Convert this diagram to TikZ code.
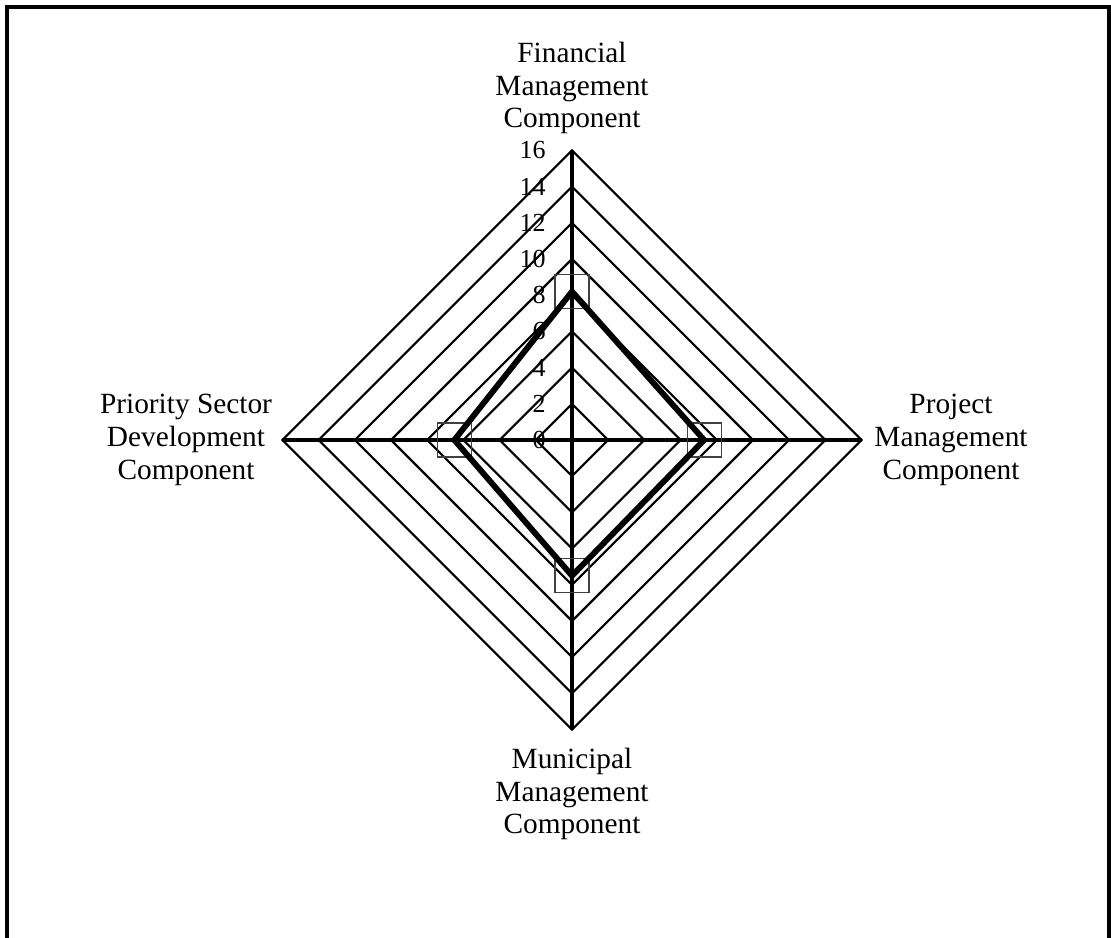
\documentclass[tikz,border=0pt]{standalone}
\usepackage{fontspec}
\setmainfont{Liberation Serif}
\tikzset{
        ring/.style={draw, line width=1.6pt},
        axis/.style={draw, line width=3.4pt},
        series/.style={draw, line width=4.4pt, line join=miter},
        marker/.style={draw=black!75, line width=0.8pt, rectangle, minimum size=25.5pt, inner sep=0pt},
        cat/.style={align=center, inner sep=0pt, font=\fontsize{22}{24.5}\selectfont},
        ticklabel/.style={anchor=east, inner sep=0pt, font=\fontsize{19.5}{22}\selectfont}
    }

\begin{document}
\begin{tikzpicture}[x=0.75pt,y=-0.75pt]
            \useasboundingbox (0,0) rectangle (1111,938);
            \draw[line width=3pt] (7,938) -- (7,7.5) -- (1109,7.5) -- (1109,938);

            % rings
            \foreach \v in {2,4,...,16}
                \draw[ring] (572,{440-18.1*\v}) -- ({572+18.1*\v},440) -- (572,{440+18.1*\v}) -- ({572-18.1*\v},440) -- cycle;

            \coordinate (top)    at (572, 150.4);
            \coordinate (right)  at (861.6, 440);
            \coordinate (bottom) at (572, 729.6);
            \coordinate (left)   at (282.4, 440);
            \draw[axis] (top) -- (bottom);
            \draw[axis] (left) -- (right);

            \foreach \v in {0,2,...,16}
                \node [ticklabel] (t\v) at (546,{440-18.1*\v}) {\v};

            % data
            \coordinate (fin)  at (572, {440-18.1*8.2});
            \coordinate (proj) at ({572+18.1*7.3}, 440);
            \coordinate (muni) at (572, {440+18.1*7.5});
            \coordinate (prio) at ({572-18.1*6.5}, 440);

            \node [marker] (mfin)  at (fin)  {};
            \node [marker] (mproj) at (proj) {};
            \node [marker] (mmuni) at (muni) {};
            \node [marker] (mprio) at (prio) {};

            \draw[series] (fin) -- (proj) -- (muni) -- (prio) -- cycle;

            \node [cat] (cfin)  at (572, 88)  {Financial\\Management\\Component};
            \node [cat] (cproj) at (951, 440) {Project\\Management\\Component};
            \node [cat] (cmuni) at (572, 794) {Municipal\\Management\\Component};
            \node [cat] (cprio) at (186, 440) {Priority Sector\\Development\\Component};
        \end{tikzpicture}
\end{document}
